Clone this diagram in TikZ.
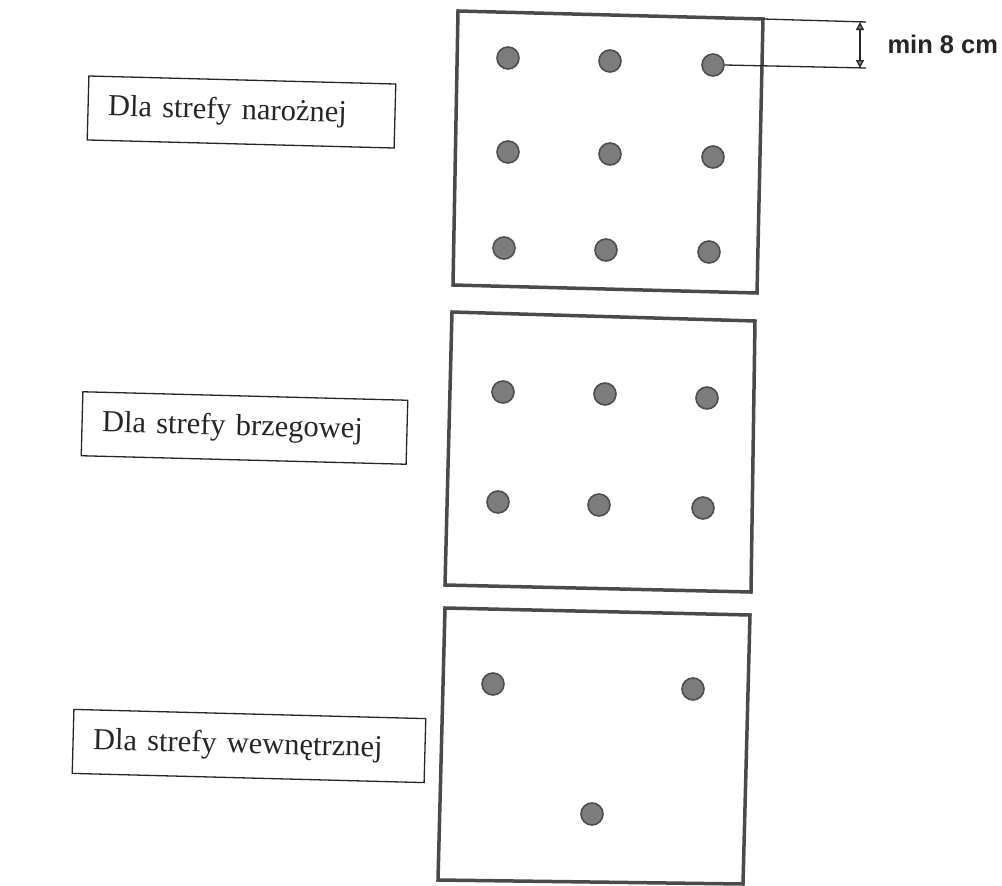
\documentclass[tikz,border=0pt]{standalone}
\usepackage{fontspec}
\setmainfont{Liberation Serif}
\newfontfamily\dimfont{Liberation Sans}
\usetikzlibrary{arrows.meta}
\definecolor{sqc}{HTML}{4A4A4A}
\definecolor{dotfill}{HTML}{7C7C7C}
\definecolor{dotedge}{HTML}{4E4E4E}
\definecolor{txt}{HTML}{262626}
\tikzset{
  sq/.style={draw=sqc, line width=3.5pt, line join=miter},
  dot/.style={circle, fill=dotfill, draw=dotedge, line width=1.6pt, minimum size=22pt, inner sep=0pt},
  label box/.style={draw=txt, line width=1.3pt, rotate=-1.5, minimum height=64pt, inner xsep=20pt, inner ysep=0pt, align=left, text=txt, font=\fontsize{30.5}{36}\selectfont},
  dimline/.style={draw=txt, line width=1.3pt},
  dimarrow/.style={draw=txt, line width=1.3pt, {Triangle[length=8pt,width=8pt,fill=gray]}-{Triangle[length=8pt,width=8pt,fill=gray]}}
}
\begin{document}
\begin{tikzpicture}[x=1pt, y=-1pt]
\useasboundingbox (0,0) rectangle (1002,886);
% squares
\coordinate (s1a) at (458,11);  \coordinate (s1b) at (763,19);
\coordinate (s1c) at (757,293); \coordinate (s1d) at (453,285);
\coordinate (s2a) at (452,312); \coordinate (s2b) at (755,321);
\coordinate (s2c) at (751,592); \coordinate (s2d) at (445,585);
\coordinate (s3a) at (445,608); \coordinate (s3b) at (750,615);
\coordinate (s3c) at (743,884); \coordinate (s3d) at (438,880);
\draw[sq] (s1a) -- (s1b) -- (s1c) -- (s1d) -- cycle;
\draw[sq] (s2a) -- (s2b) -- (s2c) -- (s2d) -- cycle;
\draw[sq] (s3a) -- (s3b) -- (s3c) -- (s3d) -- cycle;
% dots, top square
\node[dot] (a11) at (508,58) {};
\node[dot] (a12) at (610,61) {};
\node[dot] (a13) at (713,65) {};
\node[dot] (a21) at (508,152) {};
\node[dot] (a22) at (610,154) {};
\node[dot] (a23) at (713,157) {};
\node[dot] (a31) at (504,248) {};
\node[dot] (a32) at (606,250) {};
\node[dot] (a33) at (709,252) {};
% dots, middle square
\node[dot] (b11) at (503,392) {};
\node[dot] (b12) at (605,394) {};
\node[dot] (b13) at (707,398) {};
\node[dot] (b21) at (498,502) {};
\node[dot] (b22) at (599,505) {};
\node[dot] (b23) at (703,508) {};
% dots, bottom square
\node[dot] (c1) at (493,684) {};
\node[dot] (c2) at (693,689) {};
\node[dot] (c3) at (592,814) {};
% dimension
\coordinate (d1) at (866,22);
\coordinate (d2) at (866,68);
\coordinate (da) at (860,22);
\coordinate (db) at (860,68);
\draw[dimline] (s1b) -- (d1);
\draw[dimline] (a13.east) -- (d2);
\draw[dimarrow] (da) -- (db);
\node[anchor=west, text=txt, font=\dimfont\bfseries\fontsize{25.5}{30}\selectfont] (dim) at (884,44) {min 8 cm};
% label boxes
\node[label box, text width=267pt] (l1) at (241.5,112) {Dla strefy narożnej};
\node[label box, text width=285pt] (l2) at (244.5,428) {Dla strefy brzegowej};
\node[label box, text width=312pt] (l3) at (249,746) {Dla strefy wewnętrznej};
\end{tikzpicture}
\end{document}
